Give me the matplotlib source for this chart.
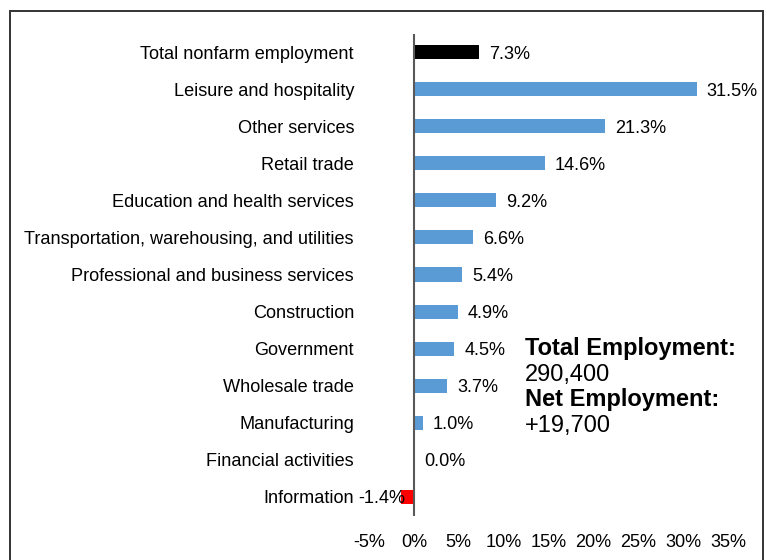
import matplotlib
matplotlib.use("Agg")
import matplotlib.pyplot as plt
from matplotlib.patches import Rectangle
from matplotlib.transforms import offset_copy

categories = [
    "Total nonfarm employment",
    "Leisure and hospitality",
    "Other services",
    "Retail trade",
    "Education and health services",
    "Transportation, warehousing, and utilities",
    "Professional and business services",
    "Construction",
    "Government",
    "Wholesale trade",
    "Manufacturing",
    "Financial activities",
    "Information",
]
values = [7.3, 31.5, 21.3, 14.6, 9.2, 6.6, 5.4, 4.9, 4.5, 3.7, 1.0, 0.0, -1.4]
xticks = [-5, 0, 5, 10, 15, 20, 25, 30, 35]
info_lines = [("Total Employment:", True), ("290,400", False),
              ("Net Employment:", True), ("+19,700", False)]

font = "Liberation Sans"
fs = 13.1

W, H = 767, 560
fig = plt.figure(figsize=(W / 100, H / 100), dpi=100)
ax = fig.add_axes([369 / W, 1 - 515.5 / H, 359 / W, 482 / H])

colors = []
for i, v in enumerate(values):
    if i == 0:
        colors.append("#000000")
    elif v < 0:
        colors.append("#FF0000")
    else:
        colors.append("#5B9BD5")

ypos = list(range(len(categories)))
ax.barh(ypos, values, height=0.38, color=colors, zorder=2)
ax.set_ylim(len(categories) - 0.5, -0.5)
ax.set_xlim(-5, 35)

for s in ax.spines.values():
    s.set_visible(False)
ax.axvline(0, color="#595959", lw=1.5, zorder=3)

ax.set_yticks(ypos)
ax.set_yticklabels(categories, fontfamily=font, fontsize=fs, color="#000000")
ax.tick_params(axis="y", length=0, pad=10.8)
ax.set_xticks(xticks)
ax.set_xticklabels([f"{t}%" for t in xticks], fontfamily=font, fontsize=fs)
ax.tick_params(axis="x", length=0, pad=13.5)

for y, v in zip(ypos, values):
    if v < 0:
        tr = offset_copy(ax.transData, fig=fig, x=3.5, y=-2, units="dots")
        ax.text(v, y, f"{v:.1f}%", ha="right", va="center", transform=tr,
                fontfamily=font, fontsize=fs, clip_on=False)
    else:
        tr = offset_copy(ax.transData, fig=fig, x=10, y=-2, units="dots")
        ax.text(v, y, f"{v:.1f}%", ha="left", va="center", transform=tr,
                fontfamily=font, fontsize=fs, clip_on=False)

baselines = [355, 381, 406, 432]
for (txt, bold), b in zip(info_lines, baselines):
    fig.text(525 / W, 1 - b / H, txt, ha="left", va="baseline",
             fontfamily=font, fontsize=17,
             fontweight="bold" if bold else "normal")

fig.patches.append(Rectangle((10 / W, -0.1), (763 - 10) / W, 1.1 - 11 / H,
                             transform=fig.transFigure, fill=False,
                             edgecolor="#333333", lw=1.4))

fig.savefig("out.png", dpi=100)
